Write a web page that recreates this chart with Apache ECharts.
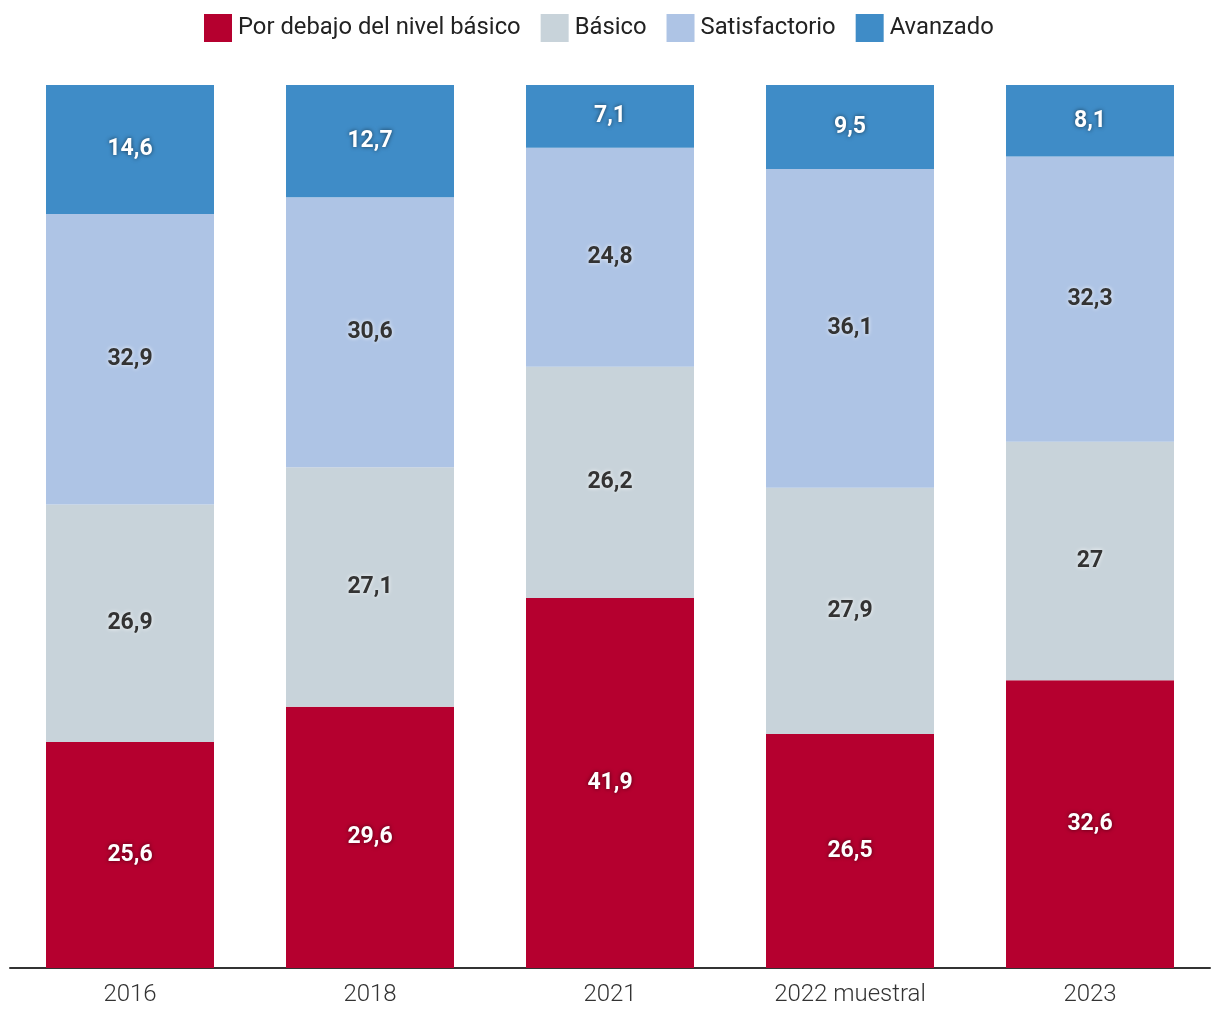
<!DOCTYPE html>
<html>
<head>
<meta charset="utf-8">
<script src="https://cdn.jsdelivr.net/npm/echarts@6/dist/echarts.min.js"></script>
<style>
html,body{margin:0;padding:0;background:#fff;}
#chart{width:1220px;height:1020px;}
</style>
</head>
<body>
<div id="chart"></div>
<script>
const categories = ['2016', '2018', '2021', '2022 muestral', '2023'];
const seriesNames = ['Por debajo del nivel básico', 'Básico', 'Satisfactorio', 'Avanzado'];
const porDebajo = [25.6, 29.6, 41.9, 26.5, 32.6];
const basico = [26.9, 27.1, 26.2, 27.9, 27];
const satisfactorio = [32.9, 30.6, 24.8, 36.1, 32.3];
const avanzado = [14.6, 12.7, 7.1, 9.5, 8.1];

const colors = ['#b5002f', '#c8d3da', '#aec4e5', '#3f8cc7'];
const dataSets = [porDebajo, basico, satisfactorio, avanzado];
const darkLabel = [false, true, true, false];

const chart = echarts.init(document.getElementById('chart'));
chart.setOption({
  animation: false,
  color: colors,
  legend: {
    top: 9,
    left: 199,
    itemWidth: 28,
    itemHeight: 28,
    itemGap: 20,
    icon: 'rect',
    textStyle: { fontFamily: 'Roboto', fontSize: 23.8, color: '#222', padding: [0, 0, 0, 1] },
    data: seriesNames
  },
  grid: { left: 10, right: 10, top: 85, bottom: 52 },
  xAxis: {
    type: 'category',
    data: categories,
    axisLine: { lineStyle: { color: '#333', width: 2 } },
    axisTick: { show: false },
    axisLabel: { fontFamily: 'Roboto', fontWeight: 300, fontSize: 24, color: '#333', margin: 15 }
  },
  yAxis: {
    type: 'value', min: 0, max: 100, show: false
  },
  series: seriesNames.map((name, i) => ({
    name: name,
    type: 'bar',
    stack: 'total',
    barWidth: '70%',
    data: dataSets[i],
    itemStyle: { color: colors[i] },
    label: {
      show: true,
      position: 'inside',
      fontFamily: 'Roboto',
      fontWeight: 'bold',
      fontSize: 23,
      color: darkLabel[i] ? '#333' : '#fff',
      textShadowColor: darkLabel[i] ? 'rgba(255,255,255,0.9)' : 'rgba(0,0,0,0.6)',
      textShadowBlur: 4,
      formatter: p => String(p.value).replace('.', ',')
    }
  }))
});
</script>
</body>
</html>
